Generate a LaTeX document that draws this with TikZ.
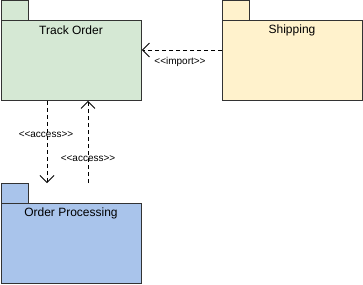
\documentclass[tikz,border=0pt]{standalone}
\usepackage{fontspec}
\setmainfont{Liberation Sans}[Ligatures=TeXOff]
\usetikzlibrary{arrows.meta,calc}
\definecolor{pgreen}{HTML}{D5E8D4}
\definecolor{pyellow}{HTML}{FFF2CC}
\definecolor{pblue}{HTML}{A9C4EB}
\definecolor{pline}{HTML}{333333}
\tikzset{
  pkgbody/.style={draw=pline, line width=0.9pt, minimum width=140pt, minimum height=80pt, anchor=north west, inner sep=0pt},
  pkgtab/.style={draw=pline, line width=0.9pt, minimum width=27pt, minimum height=20pt, anchor=north west, inner sep=0pt},
  pkgtitle/.style={font=\fontsize{12}{14}\selectfont, inner sep=0pt},
  dep/.style={draw=black, line width=0.8pt, dash pattern=on 4pt off 3pt, -{Straight Barb[length=7pt,width=14pt,line width=0.8pt]}},
  deplabel/.style={font=\fontsize{10}{12}\selectfont, inner sep=0pt}
}
\begin{document}
\begin{tikzpicture}[x=1pt,y=-1pt]
\useasboundingbox (0,0) rectangle (363,284);
% Track Order
\node[pkgtab, fill=pgreen] (totab) at (1,0) {};
\node[pkgbody, fill=pgreen] (to) at (1,20) {};
\node[pkgtitle] (totitle) at (71,30.5) {Track Order};
% Shipping
\node[pkgtab, fill=pyellow] (shtab) at (222,0) {};
\node[pkgbody, fill=pyellow] (sh) at (222,20) {};
\node[pkgtitle] (shtitle) at (292,30.5) {Shipping};
% Order Processing
\node[pkgtab, fill=pblue] (optab) at (1,183) {};
\node[pkgbody, fill=pblue] (op) at (1,203) {};
\node[pkgtitle] (optitle) at (71,213.5) {Order Processing};
% import
\draw[dep] ($(sh.north west)+(0,30)$) -- ($(to.north east)+(0,30)$);
\node[deplabel] (implabel) at (180,62) {<<import>>};
% access down
\draw[dep] ($(to.south west)+(46,0)$) -- ($(optab.north west)+(46,0)$);
\node[deplabel] (acc1) at (46,135) {<<access>>};
% access up
\draw[dep] ($(optab.north west)+(87,0)$) -- ($(to.south west)+(87,0)$);
\node[deplabel] (acc2) at (88,159) {<<access>>};
\end{tikzpicture}
\end{document}
